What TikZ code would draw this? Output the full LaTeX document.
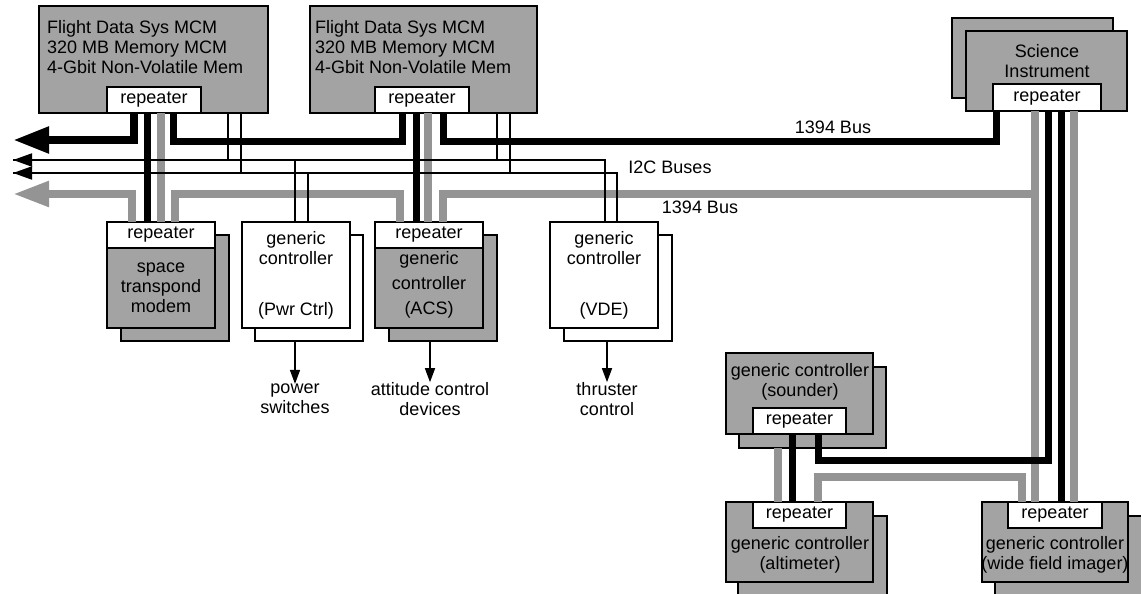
\documentclass[tikz,border=0pt]{standalone}
\usepackage{fontspec}
\setmainfont{Liberation Sans}
\usepackage{xcolor}
\usepackage{tikz}
\usetikzlibrary{arrows.meta,positioning,calc}
\definecolor{clrBoxfill}{RGB}{163,163,163}
\definecolor{clrGraybus}{RGB}{148,148,148}
\tikzset{
  graynode/.style={draw, fill=clrBoxfill, line width=1.4pt, inner sep=0pt, outer sep=0pt, anchor=north west},
  whitenode/.style={draw, fill=white, line width=1.4pt, inner sep=0pt, outer sep=0pt, anchor=north west},
  repnode/.style={draw, fill=white, line width=1.4pt, inner sep=0pt, outer sep=0pt, minimum height=26pt},
  textnode/.style={align=center, inner sep=0pt},
  blackbus/.style={line width=7pt, black},
  graybus/.style={line width=8pt, clrGraybus},
  i2cbus/.style={line width=1.8pt, black},
  outflow/.style={-{Triangle[length=14pt,width=10pt]}, line width=1.5pt}
}

\begin{document}
\begin{tikzpicture}[x=1pt, y=-1pt, font=\fontsize{18pt}{20pt}\selectfont]

\fill[white] (0,0) rectangle (1141,594);
\useasboundingbox (0,0) rectangle (1141,594);

% flight data system boxes
\node[graynode, minimum width=229pt, minimum height=107pt] (fds1) at (39,6) {};
\node[repnode, minimum width=94pt, anchor=south west] (fds1rep) at ([xshift=68pt]fds1.south west) {repeater};
\node[textnode, align=left, anchor=north west] (fds1txt) at ([shift={(8,14)}]fds1.north west)
  {Flight Data Sys MCM\\320 MB Memory MCM\\4-Gbit Non-Volatile Mem};

\node[graynode, minimum width=227pt, minimum height=107pt] (fds2) at (310,6) {};
\node[repnode, minimum width=94pt, anchor=south west] (fds2rep) at ([xshift=65pt]fds2.south west) {repeater};
\node[textnode, align=left, anchor=north west] (fds2txt) at ([shift={(5,14)}]fds2.north west)
  {Flight Data Sys MCM\\320 MB Memory MCM\\4-Gbit Non-Volatile Mem};

% science instrument
\node[graynode, minimum width=161pt, minimum height=80pt] (scib) at (952,18) {};
\node[graynode, minimum width=161pt, minimum height=80pt] (sci) at (966,31) {};
\node[repnode, minimum width=108pt, minimum height=27pt, anchor=south west] (scirep) at ([xshift=27pt]sci.south west) {repeater};
\node[textnode] (scitxt) at (1047,61) {Science\\Instrument};

% controllers on the main buses
\node[graynode, minimum width=108pt, minimum height=106pt] (stb) at (121,235) {};
\node[graynode, minimum width=108pt, minimum height=106pt] (st) at (107,222) {};
\node[repnode, minimum width=108pt, anchor=north west] (strep) at (st.north west) {repeater};
\node[textnode] (sttxt) at (161,288) {space\\transpond\\modem};

\node[whitenode, minimum width=108pt, minimum height=106pt] (pwrb) at (255,235) {};
\node[whitenode, minimum width=108pt, minimum height=106pt] (pwr) at (242,222) {};
\node[textnode] (pwrtxt) at (296,275) {generic\\controller\\[31pt](Pwr Ctrl)};

\node[graynode, minimum width=108pt, minimum height=106pt] (acsb) at (389,235) {};
\node[graynode, minimum width=108pt, minimum height=106pt] (acs) at (375,222) {};
\node[repnode, minimum width=108pt, anchor=north west] (acsrep) at (acs.north west) {repeater};
\node[textnode] (acstxt) at (429,285) {generic\\[5pt]controller\\[5pt](ACS)};

\node[whitenode, minimum width=108pt, minimum height=106pt] (vdeb) at (564,235) {};
\node[whitenode, minimum width=108pt, minimum height=106pt] (vde) at (550,222) {};
\node[textnode] (vdetxt) at (604,275) {generic\\controller\\[31pt](VDE)};

% outputs
\node[textnode] (pwrout) at (295,399) {power\\switches};
\node[textnode] (acsout) at (430,399) {attitude control\\devices};
\node[textnode] (vdeout) at (607,399) {thruster\\control};

% instrument side controllers
\node[graynode, minimum width=147pt, minimum height=81pt] (sndb) at (739,367) {};
\node[graynode, minimum width=147pt, minimum height=81pt] (snd) at (726,353) {};
\node[repnode, minimum width=93pt, anchor=south west] (sndrep) at ([xshift=27pt]snd.south west) {repeater};
\node[textnode] (sndtxt) at (800,382) {generic controller\\(sounder)};

\node[graynode, minimum width=149pt, minimum height=84pt] (altb) at (738,516) {};
\node[graynode, minimum width=147pt, minimum height=80pt] (alt) at (726,502) {};
\node[repnode, minimum width=93pt, anchor=north west] (altrep) at ([xshift=27pt]alt.north west) {repeater};
\node[textnode] (alttxt) at (800,555) {generic controller\\(altimeter)};

\node[graynode, minimum width=150pt, minimum height=84pt] (wfib) at (995,516) {};
\node[graynode, minimum width=146pt, minimum height=80pt] (wfi) at (982,502) {};
\node[repnode, minimum width=94pt, anchor=north west] (wfirep) at ([xshift=26pt]wfi.north west) {repeater};
\node[textnode] (wfitxt) at (1055,555) {generic controller\\(wide field imager)};

% bus labels
\node[textnode] (lbl1394a) at (833,127) {1394 Bus};
\node[textnode] (lbli2c) at (670,167) {I2C Buses};
\node[textnode] (lbl1394b) at (700,207) {1394 Bus};

\coordinate (tipA) at (13,140);
\coordinate (tipB) at (13,160);
\coordinate (tipC) at (13,173);
\coordinate (tipD) at (13,194);

% gray 1394 bus
\draw[graybus, -{Triangle[length=36pt,width=24pt]}] ([xshift=25pt]strep.north west) |- (tipD);
\draw[graybus] ([xshift=68pt]strep.north west) -- ++(0,-28) -| ([xshift=25pt]acsrep.north west);
\draw[graybus] ([xshift=68pt]acsrep.north west) -- ++(0,-28) -| ([xshift=42pt]scirep.south west);
\draw[graybus] ([xshift=42pt]scirep.south west) -- ([xshift=27pt]wfirep.north west);
\draw[graybus] ([xshift=54pt]fds1rep.south west) -- ([xshift=54pt]strep.north west);
\draw[graybus] ([xshift=53pt]fds2rep.south west) -- ([xshift=53pt]acsrep.north west);
\draw[graybus] ([xshift=81pt]scirep.south west) -- ([xshift=66pt]wfirep.north west);
\draw[graybus] ([xshift=39pt]sndb.south west) -- ([xshift=25pt]altrep.north west);
\draw[graybus] ([xshift=65pt]altrep.north west) -- ++(0,-25) -| ([xshift=14pt]wfirep.north west);

% black 1394 bus
\draw[blackbus, line width=8pt, -{Triangle[length=36pt,width=25pt]}] ([xshift=27pt]fds1rep.south west) |- (tipA);
\draw[blackbus] ([xshift=66pt]fds1rep.south west) -- ++(0,28) -| ([xshift=27pt]fds2rep.south west);
\draw[blackbus] ([xshift=68pt]fds2rep.south west) -- ++(0,28) -| ([xshift=3pt]scirep.south west);
\draw[blackbus] ([xshift=55pt]scirep.south west) -- ++(0,349) -| ([xshift=65pt]sndrep.south west);
\draw[blackbus] ([xshift=40pt]fds1rep.south west) -- ([xshift=40pt]strep.north west);
\draw[blackbus] ([xshift=41pt]fds2rep.south west) -- ([xshift=41pt]acsrep.north west);
\draw[blackbus] ([xshift=68pt]scirep.south west) -- ([xshift=53pt]wfirep.north west);
\draw[blackbus] ([xshift=39pt]sndrep.south west) -- ([xshift=39pt]altrep.north west);

% I2C buses
\draw[i2cbus, -{Triangle[length=19pt,width=13pt]}] ([xshift=55pt]vde.north west) |- (tipB);
\draw[i2cbus, -{Triangle[length=19pt,width=13pt]}] ([xshift=67pt]vde.north west) |- (tipC);
\draw[i2cbus] ([xshift=-40pt]fds1.south east) |- (tipB);
\draw[i2cbus] ([xshift=-27pt]fds1.south east) |- (tipC);
\draw[i2cbus] ([xshift=-40pt]fds2.south east) |- (tipB);
\draw[i2cbus] ([xshift=-27pt]fds2.south east) |- (tipC);
\draw[i2cbus] ([xshift=53pt]pwr.north west) |- (tipB);
\draw[i2cbus] ([xshift=66pt]pwr.north west) |- (tipC);

\draw[outflow] (pwrb.south -| pwrout.north) -- (pwrout.north);
\draw[outflow] (acsb.south -| acsout.north) -- (acsout.north);
\draw[outflow] (vdeb.south -| vdeout.north) -- (vdeout.north);

\end{tikzpicture}
\end{document}
